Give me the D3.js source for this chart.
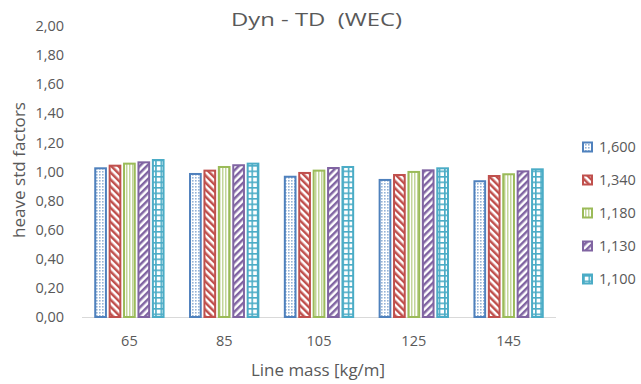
<!DOCTYPE html>
<html><head><meta charset="utf-8">
<script src="https://cdn.jsdelivr.net/npm/d3@7"></script>
<style>
body{margin:0;background:#fff;}
text{font-family:"Open Sans",Lato,sans-serif;fill:#595959;}
</style></head>
<body>
<svg id="c" width="641" height="384"></svg>
<script>
const categories = ["65","85","105","125","145"];
const seriesNames = ["1,600","1,340","1,180","1,130","1,100"];
const s1600 = [1.022, 0.983, 0.964, 0.942, 0.933];
const s1340 = [1.040, 1.006, 0.990, 0.976, 0.969];
const s1180 = [1.054, 1.031, 1.006, 0.997, 0.981];
const s1130 = [1.063, 1.043, 1.024, 1.008, 1.001];
const s1100 = [1.079, 1.054, 1.031, 1.022, 1.015];
const yTicks = [0,0.2,0.4,0.6,0.8,1.0,1.2,1.4,1.6,1.8,2.0];
const colors = ["#4F81BD","#C0504D","#9BBB59","#8064A2","#4BACC6"];
const values = [s1600,s1340,s1180,s1130,s1100];
const FONT = "'Open Sans',Lato,sans-serif";

const svg = d3.select("#c");
const defs = svg.append("defs");

// pattern 0: dots
let p = defs.append("pattern").attr("id","p0").attr("patternUnits","userSpaceOnUse").attr("width",3).attr("height",3);
p.append("rect").attr("width",3).attr("height",3).attr("fill","#fff");
p.append("rect").attr("width",1.6).attr("height",1.6).attr("fill",colors[0]).attr("opacity",0.6);
// pattern 1: wide downward diagonal
p = defs.append("pattern").attr("id","p1").attr("patternUnits","userSpaceOnUse").attr("width",5).attr("height",5).attr("patternTransform","rotate(-45)");
p.append("rect").attr("width",5).attr("height",5).attr("fill","#fff");
p.append("rect").attr("width",2.5).attr("height",5).attr("fill",colors[1]);
// pattern 2: vertical lines
p = defs.append("pattern").attr("id","p2").attr("patternUnits","userSpaceOnUse").attr("width",3).attr("height",3);
p.append("rect").attr("width",3).attr("height",3).attr("fill","#fff");
p.append("rect").attr("width",1.5).attr("height",3).attr("fill",colors[2]).attr("opacity",0.6);
// pattern 3: wide upward diagonal
p = defs.append("pattern").attr("id","p3").attr("patternUnits","userSpaceOnUse").attr("width",5).attr("height",5).attr("patternTransform","rotate(45)");
p.append("rect").attr("width",5).attr("height",5).attr("fill","#fff");
p.append("rect").attr("width",2.5).attr("height",5).attr("fill",colors[3]);
// pattern 4: grid
p = defs.append("pattern").attr("id","p4").attr("patternUnits","userSpaceOnUse").attr("width",5.35).attr("height",5.5);
p.append("rect").attr("width",5.35).attr("height",5.5).attr("fill","#fff");
p.append("rect").attr("y",0).attr("width",5.35).attr("height",1.6).attr("fill",colors[4]);
p.append("rect").attr("x",0).attr("width",1.6).attr("height",5.5).attr("fill",colors[4]);

const x0 = d3.scaleBand().domain(categories).range([82,556]).paddingInner(0.24).paddingOuter(0.12);
const x1 = d3.scaleBand().domain(seriesNames).range([0, x0.bandwidth()]);
const y = d3.scaleLinear().domain([0,2]).range([317,26]);

// y axis labels
const yAxis = d3.axisLeft(y).tickValues(yTicks).tickSize(0).tickPadding(0)
  .tickFormat(d => d3.format(".2f")(d).replace(".", ","));
const gy = svg.append("g").attr("transform","translate(64,0)").call(yAxis);
gy.select(".domain").remove();
gy.selectAll("text").attr("font-size",14.5).attr("fill","#595959").style("font-family",FONT);

// baseline
svg.append("line").attr("x1",82).attr("x2",556).attr("y1",y(0)+0.5).attr("y2",y(0)+0.5).attr("stroke","#d9d9d9").attr("stroke-width",1);

// bars
const barW = 10.7;
seriesNames.forEach((s,i)=>{
  svg.append("g").selectAll("rect").data(categories).join("rect")
    .attr("x", c => x0(c) + x1(s) + (x1.bandwidth()-barW)/2)
    .attr("width", barW)
    .attr("y", (c,j) => y(values[i][j]))
    .attr("height", (c,j) => y(0) - y(values[i][j]))
    .attr("fill", `url(#p${i})`)
    .attr("stroke", colors[i]).attr("stroke-width", 2);
});

// x axis labels
const xAxis = d3.axisBottom(x0).tickSize(0).tickPadding(0);
const gx = svg.append("g").call(xAxis);
gx.select(".domain").remove();
gx.selectAll("text").attr("font-size",14.5).attr("fill","#595959").attr("dy",null).attr("y",346).style("font-family",FONT);

// titles
svg.append("text").attr("x",316.5).attr("y",26).attr("text-anchor","middle").attr("font-size",18.5)
  .attr("textLength",171).attr("lengthAdjust","spacingAndGlyphs").style("white-space","pre").text("Dyn - TD  (WEC)");
svg.append("text").attr("x",318).attr("y",376).attr("text-anchor","middle").attr("font-size",17)
  .attr("textLength",134).attr("lengthAdjust","spacingAndGlyphs").text("Line mass [kg/m]");
svg.append("text").attr("transform","translate(25,170) rotate(-90)").attr("text-anchor","middle").attr("font-size",16.5)
  .attr("textLength",136).attr("lengthAdjust","spacingAndGlyphs").text("heave std factors");

// legend
const leg = svg.append("g");
seriesNames.forEach((s,i)=>{
  const yy = 147 + i*33;
  leg.append("rect").attr("x",583).attr("y",yy-4.5).attr("width",9).attr("height",9)
    .attr("fill",`url(#p${i})`).attr("stroke",colors[i]).attr("stroke-width",2);
  leg.append("text").attr("x",599).attr("y",yy+5).attr("font-size",14.5).text(s);
});
</script>
</body></html>
